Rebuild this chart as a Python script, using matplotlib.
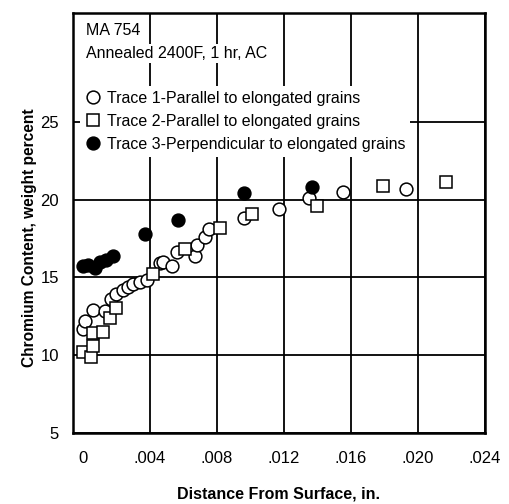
import matplotlib
matplotlib.use('Agg')
import matplotlib.pyplot as plt

plt.rcParams['font.family'] = ['Liberation Sans', 'DejaVu Sans']

# distance from surface (in.) and chromium content (wt %) for each trace
trace1_x = [0.0000, 0.0001, 0.0006, 0.0013, 0.0017, 0.0020, 0.0024, 0.0027,
            0.0030, 0.0034, 0.0038, 0.0046, 0.0048, 0.0053, 0.0056, 0.0067,
            0.0068, 0.0073, 0.0075, 0.0096, 0.0117, 0.0135, 0.0155, 0.0193]
trace1_y = [11.7, 12.2, 12.9, 12.8, 13.6, 13.9, 14.2, 14.4,
            14.6, 14.7, 14.8, 15.9, 16.0, 15.7, 16.6, 16.4,
            17.1, 17.6, 18.1, 18.8, 19.4, 20.1, 20.5, 20.7]

trace2_x = [0.0000, 0.0005, 0.0006, 0.0006, 0.0012, 0.0016, 0.0020,
            0.0042, 0.0061, 0.0082, 0.0101, 0.0140, 0.0179, 0.0217]
trace2_y = [10.2, 9.9, 10.6, 11.4, 11.5, 12.4, 13.0,
            15.2, 16.8, 18.2, 19.1, 19.6, 20.9, 21.1]

trace3_x = [0.0000, 0.0003, 0.0007, 0.0010, 0.0014, 0.0018,
            0.0037, 0.0057, 0.0096, 0.0137]
trace3_y = [15.7, 15.8, 15.6, 16.0, 16.1, 16.4,
            17.8, 18.7, 20.4, 20.8]

labels = ['Trace 1-Parallel to elongated grains',
          'Trace 2-Parallel to elongated grains',
          'Trace 3-Perpendicular to elongated grains']
x_ticks = [0, 0.004, 0.008, 0.012, 0.016, 0.020, 0.024]
x_ticklabels = ['0', '.004', '.008', '.012', '.016', '.020', '.024']
y_ticks = [5, 10, 15, 20, 25]

fig = plt.figure(figsize=(5.1, 5.04), dpi=100)
ax = fig.add_axes([0.143, 0.1415, 0.808, 0.8325])

ms = 9.2
mew = 1.1
ax.plot(trace1_x, trace1_y, 'o', ms=ms, mfc='white', mec='black', mew=mew,
        label=labels[0], zorder=3)
ax.plot(trace2_x, trace2_y, 's', ms=ms - 0.4, mfc='white', mec='black', mew=mew,
        label=labels[1], zorder=3)
ax.plot(trace3_x, trace3_y, 'o', ms=ms, mfc='black', mec='black', mew=mew,
        label=labels[2], zorder=4)

ax.set_xlim(-0.0006, 0.024)
ax.set_ylim(5, 32)
ax.set_xticks(x_ticks)
ax.set_xticklabels(x_ticklabels)
ax.set_yticks(y_ticks)
ax.grid(True, color='black', linewidth=1.3)
ax.set_axisbelow(True)
# the zero line sits just inside the left frame; leave it out
ax.xaxis.get_major_ticks()[0].gridline.set_visible(False)
for s in ax.spines.values():
    s.set_linewidth(1.8)
ax.tick_params(length=0, labelsize=12)
ax.tick_params(axis='x', pad=13)
ax.tick_params(axis='y', pad=10)

ax.set_xlabel('Distance From Surface, in.', fontsize=11.5, fontweight='bold',
              labelpad=15)
ax.set_ylabel('Chromium Content, weight percent', fontsize=11.2,
              fontweight='bold')
ax.yaxis.set_label_coords(-0.088, 0.464)

box = dict(facecolor='white', edgecolor='none', pad=1.5)
ax.text(0.032, 0.9595, 'MA 754', transform=ax.transAxes, fontsize=11.5,
        va='center', ha='left', bbox=box)
ax.text(0.032, 0.903, 'Annealed 2400F, 1 hr, AC', transform=ax.transAxes,
        fontsize=11.5, va='center', ha='left', bbox=box)

leg = ax.legend(loc='upper left', bbox_to_anchor=(0.017, 0.826),
                borderaxespad=0, borderpad=0.3, handlelength=1.0,
                handletextpad=0.4, labelspacing=0.5, numpoints=1,
                fontsize=11.5, frameon=True, fancybox=False)
leg.get_frame().set_facecolor('white')
leg.get_frame().set_edgecolor('none')
leg.get_frame().set_alpha(1)

fig.savefig('out.png', dpi=100)
